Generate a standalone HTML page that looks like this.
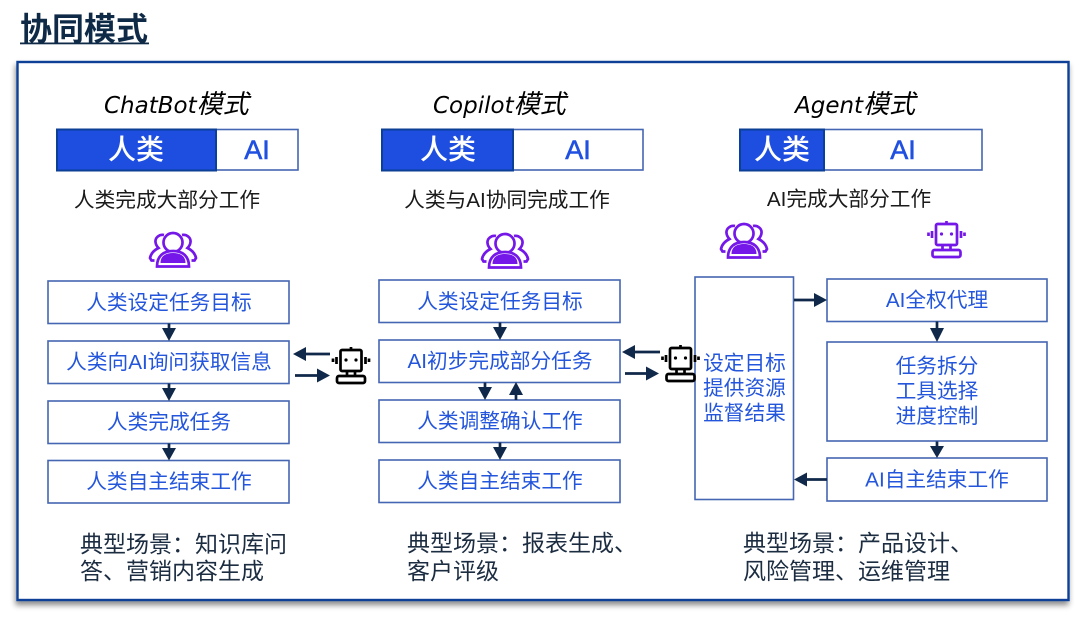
<!DOCTYPE html>
<html><head><meta charset="utf-8">
<style>
html,body{margin:0;padding:0;background:#fff;width:1080px;height:617px;overflow:hidden}
svg{display:block}
text{font-family:"Liberation Sans","Noto Sans CJK SC",sans-serif}
.b{fill:#fff;stroke:#4566b2;stroke-width:1.6}
.t{fill:#2456dc;font-size:20.7px;text-anchor:middle}
.k{fill:#1a1a1a;font-size:20.7px;text-anchor:middle}
.s{fill:#1c2d42;font-size:23px}
.h{fill:#000;font-size:23px;font-style:italic;font-family:"DejaVu Sans","Noto Sans CJK SC",sans-serif}
.h tspan{font-size:26px}
.w{fill:#fff;font-size:28px;text-anchor:middle;font-weight:500}
.a{fill:#2050e0;font-size:27px;text-anchor:middle;font-weight:400;stroke:#2050e0;stroke-width:.6}
.l{stroke:#10294a;stroke-width:2.7;fill:none}
.ar{fill:#10294a}
</style></head><body>
<svg width="1080" height="617" viewBox="0 0 1080 617" xmlns="http://www.w3.org/2000/svg">
<defs>
<filter id="sh" x="-5%" y="-5%" width="110%" height="110%"><feDropShadow dx="-1" dy="4" stdDeviation="3" flood-color="#000" flood-opacity=".45"/></filter>
<g id="p" fill="none" stroke="#7417e8" stroke-width="2.7">
<path d="M-9-16c-5-1-9 3-8.500 7 .3 3 1.500 4.500 3 6-4 2-7.500 5-8.500 10l1.500 2.500h3M9-16c5-1 9 3 8.500 7-.3 3-1.500 4.500-3 6 4 2 7.500 5 8.500 10l-1.500 2.500h-3"/>
<circle cx="0" cy="-8.500" r="9.500" fill="#fff"/>
<path d="M-16 15.500c0-11 7-15.500 16-15.500s16 4.500 16 15.500z" fill="#fff"/>
<path d="M-12.500 12c0-7 5-10 12.500-10s12.500 3 12.500 10z" fill="#7417e8" stroke="none"/>
</g>
<g id="r" fill="none" stroke-width="2.7">
<rect x="-10.500" y="-14" width="21" height="21" rx="1.500"/>
<path d="M0-14v-3M-14.500-7v7M14.500-7v7M-18-5.500v3.500M18-5.500v3.500M-4 7v5M4 7v5"/>
<rect x="-14" y="12" width="28" height="7" rx="2"/>
<circle cx="-5" cy="-4" r="1.600" fill="currentColor" stroke="none"/>
<circle cx="5" cy="-4" r="1.600" fill="currentColor" stroke="none"/>
</g>
</defs>

<text x="20" y="40" font-size="32" font-weight="700" fill="#0f2a47">协同模式</text>
<rect x="20" y="42.500" width="129" height="1.800" fill="#0f2a47"/>
<rect x="17.500" y="62" width="1051" height="538" fill="#fff" stroke="#0c3f96" stroke-width="2.400" filter="url(#sh)"/>

<text class="h" x="104" y="113">ChatBot<tspan>模式</tspan></text>
<text class="h" x="433" y="113">Copilot<tspan>模式</tspan></text>
<text class="h" x="795" y="113">Agent<tspan>模式</tspan></text>

<rect x="216" y="129.500" width="82" height="40.500" class="b"/>
<rect x="57" y="129.500" width="159" height="41" fill="#1d4ee0" stroke="#0c3f96" stroke-width="2"/>
<text class="w" x="136" y="159">人类</text><text class="a" x="257" y="159">AI</text>
<rect x="513" y="129.500" width="130" height="40.500" class="b"/>
<rect x="382" y="129.500" width="131" height="41" fill="#1d4ee0" stroke="#0c3f96" stroke-width="2"/>
<text class="w" x="448" y="159">人类</text><text class="a" x="578" y="159">AI</text>
<rect x="824" y="129.500" width="158" height="40.500" class="b"/>
<rect x="740" y="129.500" width="84" height="41" fill="#1d4ee0" stroke="#0c3f96" stroke-width="2"/>
<text class="w" x="782" y="159">人类</text><text class="a" x="903" y="159">AI</text>

<text class="k" x="167" y="207">人类完成大部分工作</text>
<text class="k" x="507" y="207">人类与AI协同完成工作</text>
<text class="k" x="849" y="206">AI完成大部分工作</text>

<use href="#p" x="173" y="251"/>
<use href="#p" x="505" y="252"/>
<use href="#p" x="744" y="242"/>
<use href="#r" x="946.500" y="238" stroke="#7417e8" color="#7417e8"/>

<rect class="b" x="48" y="281" width="241" height="42.500"/>
<rect class="b" x="48" y="341" width="241" height="42.500"/>
<rect class="b" x="48" y="401" width="241" height="42.500"/>
<rect class="b" x="48" y="460.500" width="241" height="42.500"/>
<text class="t" x="169" y="309.500">人类设定任务目标</text>
<text class="t" x="169" y="369">人类向AI询问获取信息</text>
<text class="t" x="169" y="429">人类完成任务</text>
<text class="t" x="169" y="488.500">人类自主结束工作</text>

<rect class="b" x="379" y="280" width="241" height="42.500"/>
<rect class="b" x="379" y="340" width="241" height="42.500"/>
<rect class="b" x="379" y="400" width="241" height="42.500"/>
<rect class="b" x="379" y="460" width="241" height="42.500"/>
<text class="t" x="500" y="308.500">人类设定任务目标</text>
<text class="t" x="500" y="368">AI初步完成部分任务</text>
<text class="t" x="500" y="428">人类调整确认工作</text>
<text class="t" x="500" y="488">人类自主结束工作</text>

<rect class="b" x="695" y="277" width="98.500" height="222.500"/>
<text class="t" x="744.500" y="370">设定目标</text>
<text class="t" x="744.500" y="395">提供资源</text>
<text class="t" x="744.500" y="420">监督结果</text>
<rect class="b" x="827" y="279" width="220" height="42.500"/>
<rect class="b" x="827" y="342" width="220" height="99"/>
<rect class="b" x="827" y="458" width="220" height="43"/>
<text class="t" x="937" y="307">AI全权代理</text>
<text class="t" x="937" y="373">任务拆分</text>
<text class="t" x="937" y="398">工具选择</text>
<text class="t" x="937" y="423">进度控制</text>
<text class="t" x="937" y="486.500">AI自主结束工作</text>

<!-- vertical arrows -->
<path class="l" d="M169 323.500v6M169 383.500v6M169 443.500v6M500 322.500v6M485 382.500v6M516 394v6M500 442.500v6M937 321.500v8M937 441.500v6"/>
<path class="ar" d="M162 328h14l-7 13zM162 388h14l-7 13zM162 448h14l-7 12.500zM493 327h14l-7 13zM478 387h14l-7 13zM509 395h14l-7-13zM493 447h14l-7 13zM930 328h14l-7 14zM930 446h14l-7 12z"/>

<!-- horizontal arrows -->
<path class="l" d="M305 354h25M295 375.500h24"/>
<path class="ar" d="M293 354l13-7v14zM330 375.500l-13-7v14z"/>
<path class="l" d="M632 352h28M625 373.500h24"/>
<path class="ar" d="M622 352l13-7v14zM659 373.500l-13-7v14z"/>
<path class="l" d="M794 300h20M807 479.500h20"/>
<path class="ar" d="M827 300l-13-7v14zM794 479.500l13-7v14z"/>

<use href="#r" x="351" y="364" stroke="#000" color="#000"/>
<use href="#r" x="680.500" y="362" stroke="#000" color="#000"/>

<text class="s" x="80" y="552">典型场景：知识库问</text>
<text class="s" x="80" y="579">答、营销内容生成</text>
<text class="s" x="407" y="551">典型场景：报表生成、</text>
<text class="s" x="407" y="579">客户评级</text>
<text class="s" x="743" y="551">典型场景：产品设计、</text>
<text class="s" x="743" y="579">风险管理、运维管理</text>
</svg>
</body></html>
